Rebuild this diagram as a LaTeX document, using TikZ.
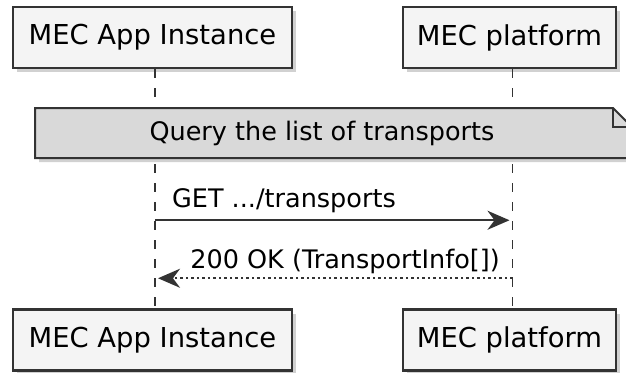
\documentclass[tikz,border=0pt]{standalone}
\usepackage{fontspec}
\setmainfont{DejaVu Sans}
\usetikzlibrary{arrows.meta,shadows}
\definecolor{partfill}{HTML}{F4F4F4}
\definecolor{notefill}{HTML}{D9D9D9}
\definecolor{ink}{HTML}{333333}

\begin{document}
\begin{tikzpicture}[x=1pt,y=-1pt,
  shade/.style={drop shadow={shadow xshift=4pt,shadow yshift=-4pt,opacity=0.3,fill=black!60}},
  party/.style={draw=ink,line width=2.5pt,fill=partfill,shade,minimum height=61pt,inner sep=0pt,
    font=\fontsize{27.4}{32}\selectfont},
  lifeline/.style={draw=ink,line width=1.3pt,dash pattern=on 9pt off 10pt},
  msg/.style={draw=ink,line width=2pt,-{Stealth[length=22pt,width=19pt,inset=7pt]}},
  reply/.style={msg,dash pattern=on 2.5pt off 3pt},
  lbl/.style={inner sep=0pt,font=\fontsize{25.5}{30}\selectfont}]
\useasboundingbox (0,0) rectangle (626,372);

% participants, top and bottom
\node[party,minimum width=279pt] (appT) at (152.5,37.5) {MEC App Instance};
\node[party,minimum width=213pt] (mepT) at (509.5,37.5) {MEC platform};
\node[party,minimum width=279pt] (appB) at (152.5,340) {MEC App Instance};
\node[party,minimum width=213pt] (mepB) at (509.5,340) {MEC platform};

% lifelines
\path ([xshift=2.5pt]appT.south) coordinate (appL1);
\path ([xshift=2.5pt]appB.north) coordinate (appL2);
\path ([xshift=3pt]mepT.south) coordinate (mepL1);
\path ([xshift=3pt]mepB.north) coordinate (mepL2);
\draw[lifeline] (appL1) -- (appL2);
\draw[lifeline] (mepL1) -- (mepL2);

% note
\draw[draw=ink,line width=2pt,fill=notefill,shade]
  (35,108) -- (613,108) -- (632,127) -- (632,158) -- (35,158) -- cycle;
\draw[draw=ink,line width=2pt] (613,108) -- (613,127) -- (632,127);
\node[lbl] (note) at (322,133) {Query the list of transports};

% messages
\path (appL1) ++(0,151) coordinate (getA);
\path (mepL1) ++(-3,151) coordinate (getM);
\path (mepL1) ++(0,209) coordinate (okM);
\path (appL1) ++(3,209) coordinate (okA);

\draw[msg] (getA) -- (getM);
\node[lbl,anchor=base west] (getlbl) at (172,207) {GET .../transports};

\draw[reply] (okM) -- (okA);
\node[lbl,anchor=base east] (oklbl) at (500,268) {200 OK (TransportInfo[])};

\end{tikzpicture}
\end{document}
